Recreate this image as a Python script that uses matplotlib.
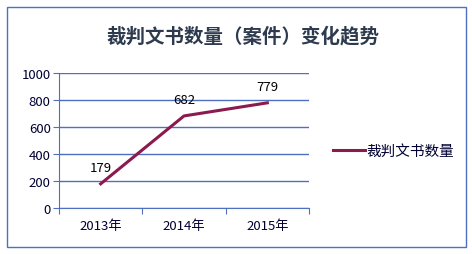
import matplotlib.pyplot as plt
from matplotlib.patches import Rectangle

plt.rcParams['font.family'] = ['Noto Sans CJK SC', 'DejaVu Sans']

# данные
years = ['2013年', '2014年', '2015年']
counts = [179, 682, 779]
series_name = '裁判文书数量'
title = '裁判文书数量（案件）变化趋势'

W, H = 472, 255
fig = plt.figure(figsize=(W / 100, H / 100), dpi=100)

# рамка вокруг графика
fig.patches.append(Rectangle((7 / W, 1 - 248 / H), 459 / W, 240 / H,
                             transform=fig.transFigure, fill=False,
                             edgecolor='#4f6fc0', linewidth=1))

ax = fig.add_axes([59 / W, 1 - 209 / H, 250 / W, 135 / H])
x = [0.5, 1.5, 2.5]
ax.plot(x, counts, color='#8b1a4e', linewidth=2.2, label=series_name)
for xi, v in zip(x, counts):
    ax.annotate(str(v), (xi, v), xytext=(0, 7), textcoords='offset points',
                ha='center', va='bottom', fontsize=9.5, fontweight='medium',
                color='black')

ax.set_xlim(0, 3)
ax.set_ylim(0, 1000)
ax.set_yticks(range(0, 1001, 200))
ax.set_xticks([0, 1, 2, 3])
ax.set_xticklabels([])
ax.set_xticks(x, minor=True)
ax.set_xticklabels(years, minor=True, fontweight='medium')
ax.set_yticklabels([str(v) for v in range(0, 1001, 200)], fontweight='medium')
ax.tick_params(axis='x', which='minor', length=0, pad=8, labelsize=9.5, labelcolor='#000033')
ax.tick_params(axis='x', which='major', length=4, color='#4f6fc0', direction='out')
ax.tick_params(axis='y', length=4, color='#4f6fc0', labelsize=9.5, labelcolor='#000033', pad=2)
ax.grid(axis='y', color='#4f6fc0', linewidth=1)
for s in ['top', 'right']:
    ax.spines[s].set_visible(False)
ax.spines['left'].set_color('#4f6fc0')
ax.spines['bottom'].set_color('#4f6fc0')

fig.text(243 / W, 1 - 36 / H, title, ha='center', va='center',
         fontsize=14, fontweight='bold', color='#2e3b4e')

leg = ax.legend(loc='center left', bbox_to_anchor=(320 / W, 1 - 152 / H),
                bbox_transform=fig.transFigure, frameon=False,
                prop={'size': 10.5, 'weight': 'medium'},
                handlelength=2.2, handletextpad=0.1)
for t in leg.get_texts():
    t.set_color('#000033')

fig.savefig('out.png', dpi=100)
